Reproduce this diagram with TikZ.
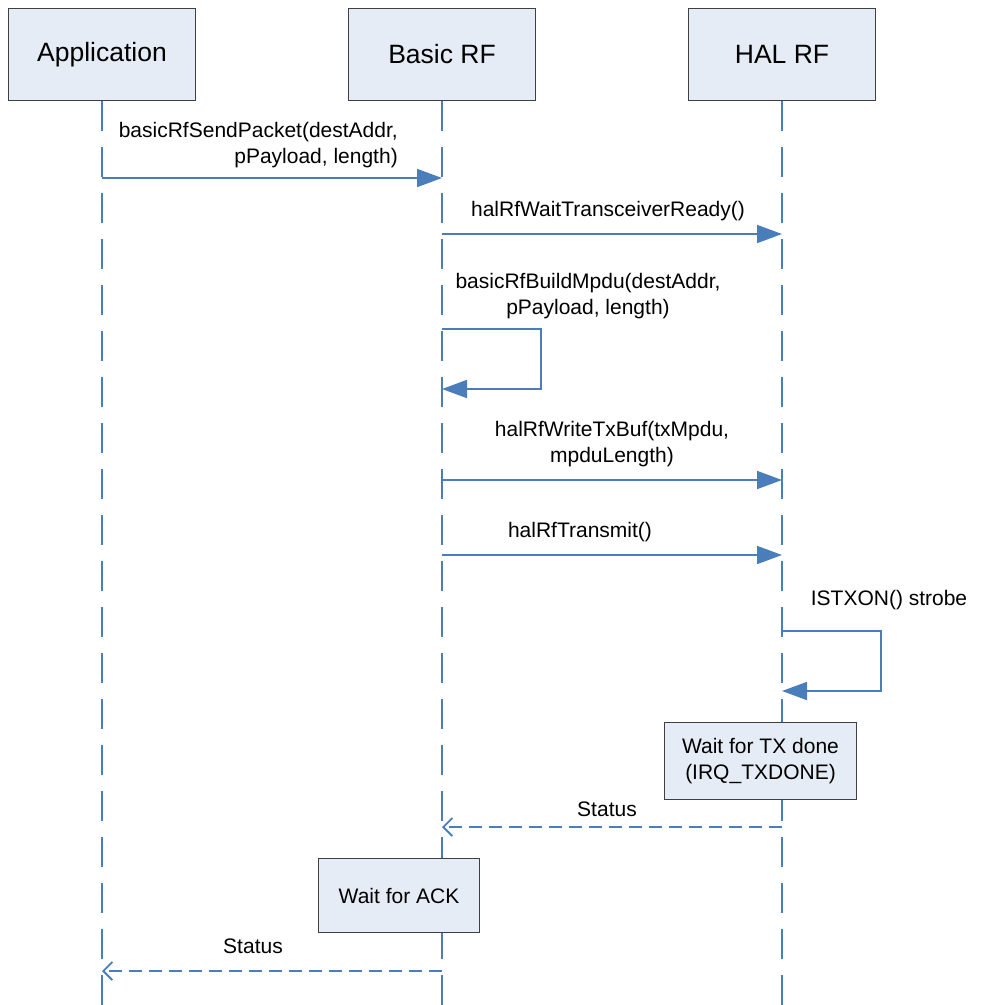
\documentclass[tikz,border=0pt]{standalone}
\usepackage{fontspec}
\setmainfont{Liberation Sans}
\usepackage{xcolor}
\usetikzlibrary{arrows.meta,positioning,calc}

\definecolor{lifeblue}{HTML}{4A7EBB}
\definecolor{boxfill}{HTML}{E6ECF6}
\definecolor{boxline}{HTML}{404040}

\begin{document}
\begin{tikzpicture}[
    x=1pt, y=-1pt,
    node distance=151.7pt,
    actor/.style={rectangle, draw=boxline, line width=1.3pt, fill=boxfill, minimum width=187pt, minimum height=92pt, align=center, font=\fontsize{26.5}{32}\selectfont},
    waitbox/.style={rectangle, draw=boxline, line width=1.3pt, fill=boxfill, align=center, inner sep=0pt, font=\fontsize{21}{26}\selectfont},
    msg/.style={align=center, inner sep=0pt, font=\fontsize{21}{26}\selectfont},
    lifeline/.style={draw=lifeblue, line width=1.8pt, dash pattern=on 30pt off 16pt},
    arrow/.style={-{Triangle[length=25pt,width=18pt]}, draw=lifeblue, line width=1.8pt},
    return_arrow/.style={-{Straight Barb[length=9pt,width=18pt]}, draw=lifeblue, line width=1.8pt, dash pattern=on 13pt off 7pt}
]
\useasboundingbox (0,0) rectangle (987,1005);

\node[actor] (app) at (102,54.5) {Application};
\node[actor, right=of app] (basic) {Basic RF};
\node[actor, right=of basic] (hal) {HAL RF};

\coordinate (bottom) at (0,1005);
\draw[lifeline] (app.south) -- (app.south |- bottom);
\draw[lifeline] (basic.south) -- (basic.south |- bottom);
\draw[lifeline] (hal.south) -- (hal.south |- bottom);

% message rows
\coordinate (send) at (0,178);
\coordinate (ready) at (0,234);
\coordinate (build) at (0,329);
\coordinate (build_end) at (0,389);
\coordinate (write) at (0,480);
\coordinate (transmit) at (0,555);
\coordinate (strobe) at (0,631);
\coordinate (strobe_end) at (0,691);
\coordinate (status_hal) at (0,827);
\coordinate (status_app) at (0,971);

\node[waitbox, minimum width=192pt, minimum height=77pt] (txdone) at (760.5,761) {Wait for TX done\\(IRQ\_TXDONE)};
\node[waitbox, minimum width=161pt, minimum height=74pt] (ack) at (399,895.5) {Wait for ACK};

\draw[arrow] (app.south |- send) -- (basic.south |- send);
\node[msg, align=right, anchor=east] (send_lbl) at (398,145) {basicRfSendPacket(destAddr,\\pPayload, length)};

\draw[arrow] (basic.south |- ready) -- node[msg, above=12pt, xshift=-4pt] {halRfWaitTransceiverReady()} (hal.south |- ready);

\draw[arrow] (basic.south |- build) -- ++(99,0) |- (basic.south |- build_end);
\node[msg] (build_lbl) at (588,296) {basicRfBuildMpdu(destAddr,\\pPayload, length)};

\draw[arrow] (basic.south |- write) -- node[msg, above=12pt] {halRfWriteTxBuf(txMpdu,\\mpduLength)} (hal.south |- write);

\draw[arrow] (basic.south |- transmit) -- node[msg, above=12pt, xshift=-32pt] {halRfTransmit()} (hal.south |- transmit);

\draw[arrow] (hal.south |- strobe) -- ++(99,0) |- (hal.south |- strobe_end);
\node[msg] (strobe_lbl) at (889,600) {ISTXON() strobe};

\draw[return_arrow] (hal.south |- status_hal) -- node[msg, above=9pt, xshift=-5pt] {Status} (basic.south |- status_hal);
\draw[return_arrow] (basic.south |- status_app) -- node[msg, above=16pt, xshift=-19pt] {Status} (app.south |- status_app);

\end{tikzpicture}
\end{document}
